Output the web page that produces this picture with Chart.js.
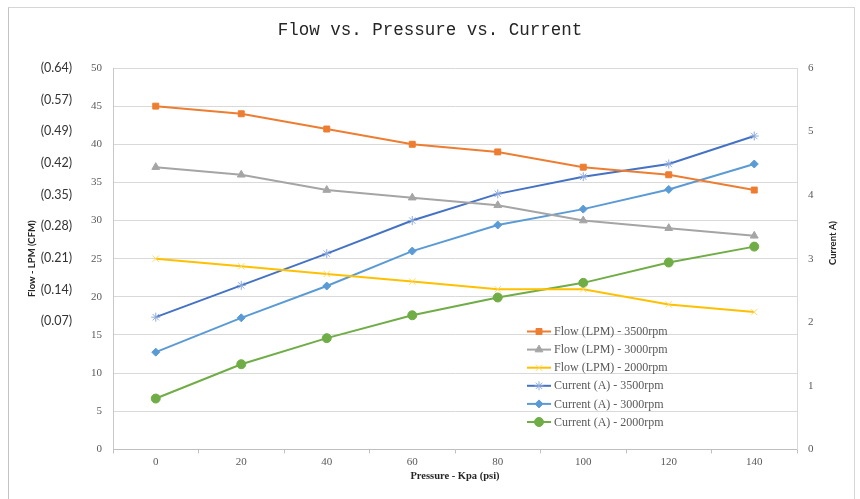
<!DOCTYPE html>
<html><head><meta charset="utf-8">
<script src="https://cdn.jsdelivr.net/npm/chart.js@4/dist/chart.umd.min.js"></script>
<style>
html,body{margin:0;padding:0;background:#fff;}
#wrap{position:relative;width:860px;height:499px;overflow:hidden;background:#fff;}
#frame{position:absolute;left:8px;top:7px;width:847px;height:530px;border:1px solid #d6d6d6;border-left-color:#c4c4c4;box-sizing:border-box;}
canvas{position:absolute;left:0;top:0;}
</style></head><body>
<div id="wrap"><div id="frame"></div><canvas id="c" width="860" height="499"></canvas></div>
<script>
// ---- data ----
const pressureLabels = ['0','20','40','60','80','100','120','140'];
const flow3500 = [45, 44, 42, 40, 39, 37, 36, 34];
const flow3000 = [37, 36, 34, 33, 32, 30, 29, 28];
const flow2000 = [25, 24, 23, 22, 21, 21, 19, 18];
const current3500 = [2.08, 2.58, 3.08, 3.60, 4.02, 4.29, 4.49, 4.93];
const current3000 = [1.53, 2.07, 2.57, 3.12, 3.53, 3.78, 4.09, 4.49];
const current2000 = [0.80, 1.34, 1.75, 2.11, 2.39, 2.62, 2.94, 3.19];
const cfmTickLabels = ['(0.07)','(0.14)','(0.21)','(0.28)','(0.35)','(0.42)','(0.49)','(0.57)','(0.64)'];
const seriesNames = ['Flow (LPM) - 3500rpm','Flow (LPM) - 3000rpm','Flow (LPM) - 2000rpm',
                     'Current (A) - 3500rpm','Current (A) - 3000rpm','Current (A) - 2000rpm'];
const chartTitle = 'Flow vs. Pressure vs. Current';
const xTitle = 'Pressure - Kpa (psi)';
const yTitle = 'Flow - LPM (CFM)';
const y1Title = 'Current A)';

function mk(label, data, axis, line, mark, style, r, bw) {
  return { label, data, yAxisID: axis, borderColor: line, borderWidth: 2, tension: 0,
    pointStyle: style, pointRadius: r, pointHoverRadius: r,
    pointBackgroundColor: mark, pointBorderColor: mark, pointBorderWidth: bw, fill: false };
}

const datasets = [
  mk(seriesNames[0], flow3500, 'y', '#ED7D31', '#ED7D31', 'rect', 4.2, 1),
  mk(seriesNames[1], flow3000, 'y', '#A5A5A5', '#A5A5A5', 'triangle', 4.5, 1),
  mk(seriesNames[2], flow2000, 'y', '#FFC000', '#FFD966', 'crossRot', 4.5, 1),
  mk(seriesNames[3], current3500, 'y1', '#4472C4', '#8FAADC', 'star', 4.5, 1),
  mk(seriesNames[4], current3000, 'y1', '#5B9BD5', '#5B9BD5', 'rectRot', 4, 1),
  mk(seriesNames[5], current2000, 'y1', '#70AD47', '#70AD47', 'circle', 4.5, 1)
];

const floatLegend = {
  id: 'floatLegend',
  afterDraw(chart) {
    const {ctx, chartArea: a} = chart;
    const x0 = a.left + 414, x1 = x0 + 24, tx = x1 + 3;
    const y0 = a.top + 263.5, dy = 18.1;
    ctx.save();
    chart.data.datasets.forEach((ds, i) => {
      const y = y0 + i * dy;
      ctx.strokeStyle = ds.borderColor; ctx.lineWidth = 2;
      ctx.beginPath(); ctx.moveTo(x0, y); ctx.lineTo(x1, y); ctx.stroke();
      ctx.fillStyle = ds.pointBackgroundColor; ctx.strokeStyle = ds.pointBorderColor; ctx.lineWidth = ds.pointBorderWidth;
      if (Chart.helpers && Chart.helpers.drawPoint) {
        Chart.helpers.drawPoint(ctx, {pointStyle: ds.pointStyle, radius: ds.pointRadius, rotation: 0, borderWidth: ds.pointBorderWidth}, (x0 + x1) / 2, y);
      } else {
        ctx.beginPath(); ctx.arc((x0 + x1) / 2, y, ds.pointRadius, 0, Math.PI * 2); ctx.fill();
      }
      ctx.fillStyle = '#595959'; ctx.font = '12px "Liberation Serif"';
      ctx.textBaseline = 'middle'; ctx.textAlign = 'left';
      ctx.fillText(ds.label, tx, y + 0.5);
    });
    // right axis title, reading bottom-to-top
    ctx.translate(833, 243); ctx.rotate(-Math.PI / 2);
    ctx.fillStyle = '#262626'; ctx.font = 'bold 9.5px Lato';
    ctx.textAlign = 'center'; ctx.textBaseline = 'middle';
    ctx.fillText(y1Title, 0, 0);
    ctx.restore();
  }
};

const tickFont = { family: '"Liberation Serif"', size: 11, lineHeight: 1 };

new Chart(document.getElementById('c'), {
  type: 'line',
  data: { labels: pressureLabels, datasets },
  plugins: [floatLegend],
  options: {
    responsive: false, animation: false, devicePixelRatio: 1,
    layout: { padding: 0 },
    plugins: {
      legend: { display: false },
      tooltip: { enabled: false },
      title: { display: true, text: chartTitle, color: '#262626',
        font: { family: '"Liberation Mono"', size: 17.5, weight: 'normal', lineHeight: 1.2 },
        padding: { top: 19.5, bottom: 27.5 } }
    },
    scales: {
      x: {
        type: 'category', offset: true,
        grid: { offset: true, drawOnChartArea: false, drawTicks: true, tickLength: 4, color: '#bfbfbf' },
        border: { color: '#bfbfbf' },
        ticks: { font: tickFont, color: '#595959', padding: 3, maxRotation: 0 },
        title: { display: true, text: xTitle, color: '#262626',
          font: { family: '"Liberation Serif"', size: 10.5, weight: 'bold', lineHeight: 1.2 },
          padding: { top: 0, bottom: 16 } }
      },
      cfm: {
        type: 'linear', position: 'left', weight: 2, min: -4.05, max: 8,
        grid: { display: false }, border: { display: false },
        ticks: { stepSize: 1, color: '#333333', padding: 3, autoSkip: false,
          font: { family: 'Lato', size: 12.5, lineHeight: 1 },
          callback: (v) => (Number.isInteger(v) && v >= 0 && v < cfmTickLabels.length) ? cfmTickLabels[v] : '' },
        title: { display: true, text: yTitle, color: '#262626',
          font: { family: 'Lato', size: 9.5, weight: 'bold', lineHeight: 1.2 },
          padding: { top: 26.3, bottom: 0 } },
        afterFit: (s) => { s.width = 83; }
      },
      y: {
        type: 'linear', position: 'left', weight: 1, min: 0, max: 50,
        grid: { color: '#d9d9d9', drawTicks: false },
        border: { color: '#c8c8c8' },
        ticks: { stepSize: 5, font: tickFont, color: '#595959', padding: 11 },
        afterFit: (s) => { s.width = 30; }
      },
      y1: {
        type: 'linear', position: 'right', min: 0, max: 6,
        grid: { drawOnChartArea: false, drawTicks: false },
        border: { color: '#d9d9d9' },
        ticks: { stepSize: 1, font: tickFont, color: '#595959', padding: 11 },
        afterFit: (s) => { s.width = 63; }
      }
    }
  }
});
</script>
</body></html>
